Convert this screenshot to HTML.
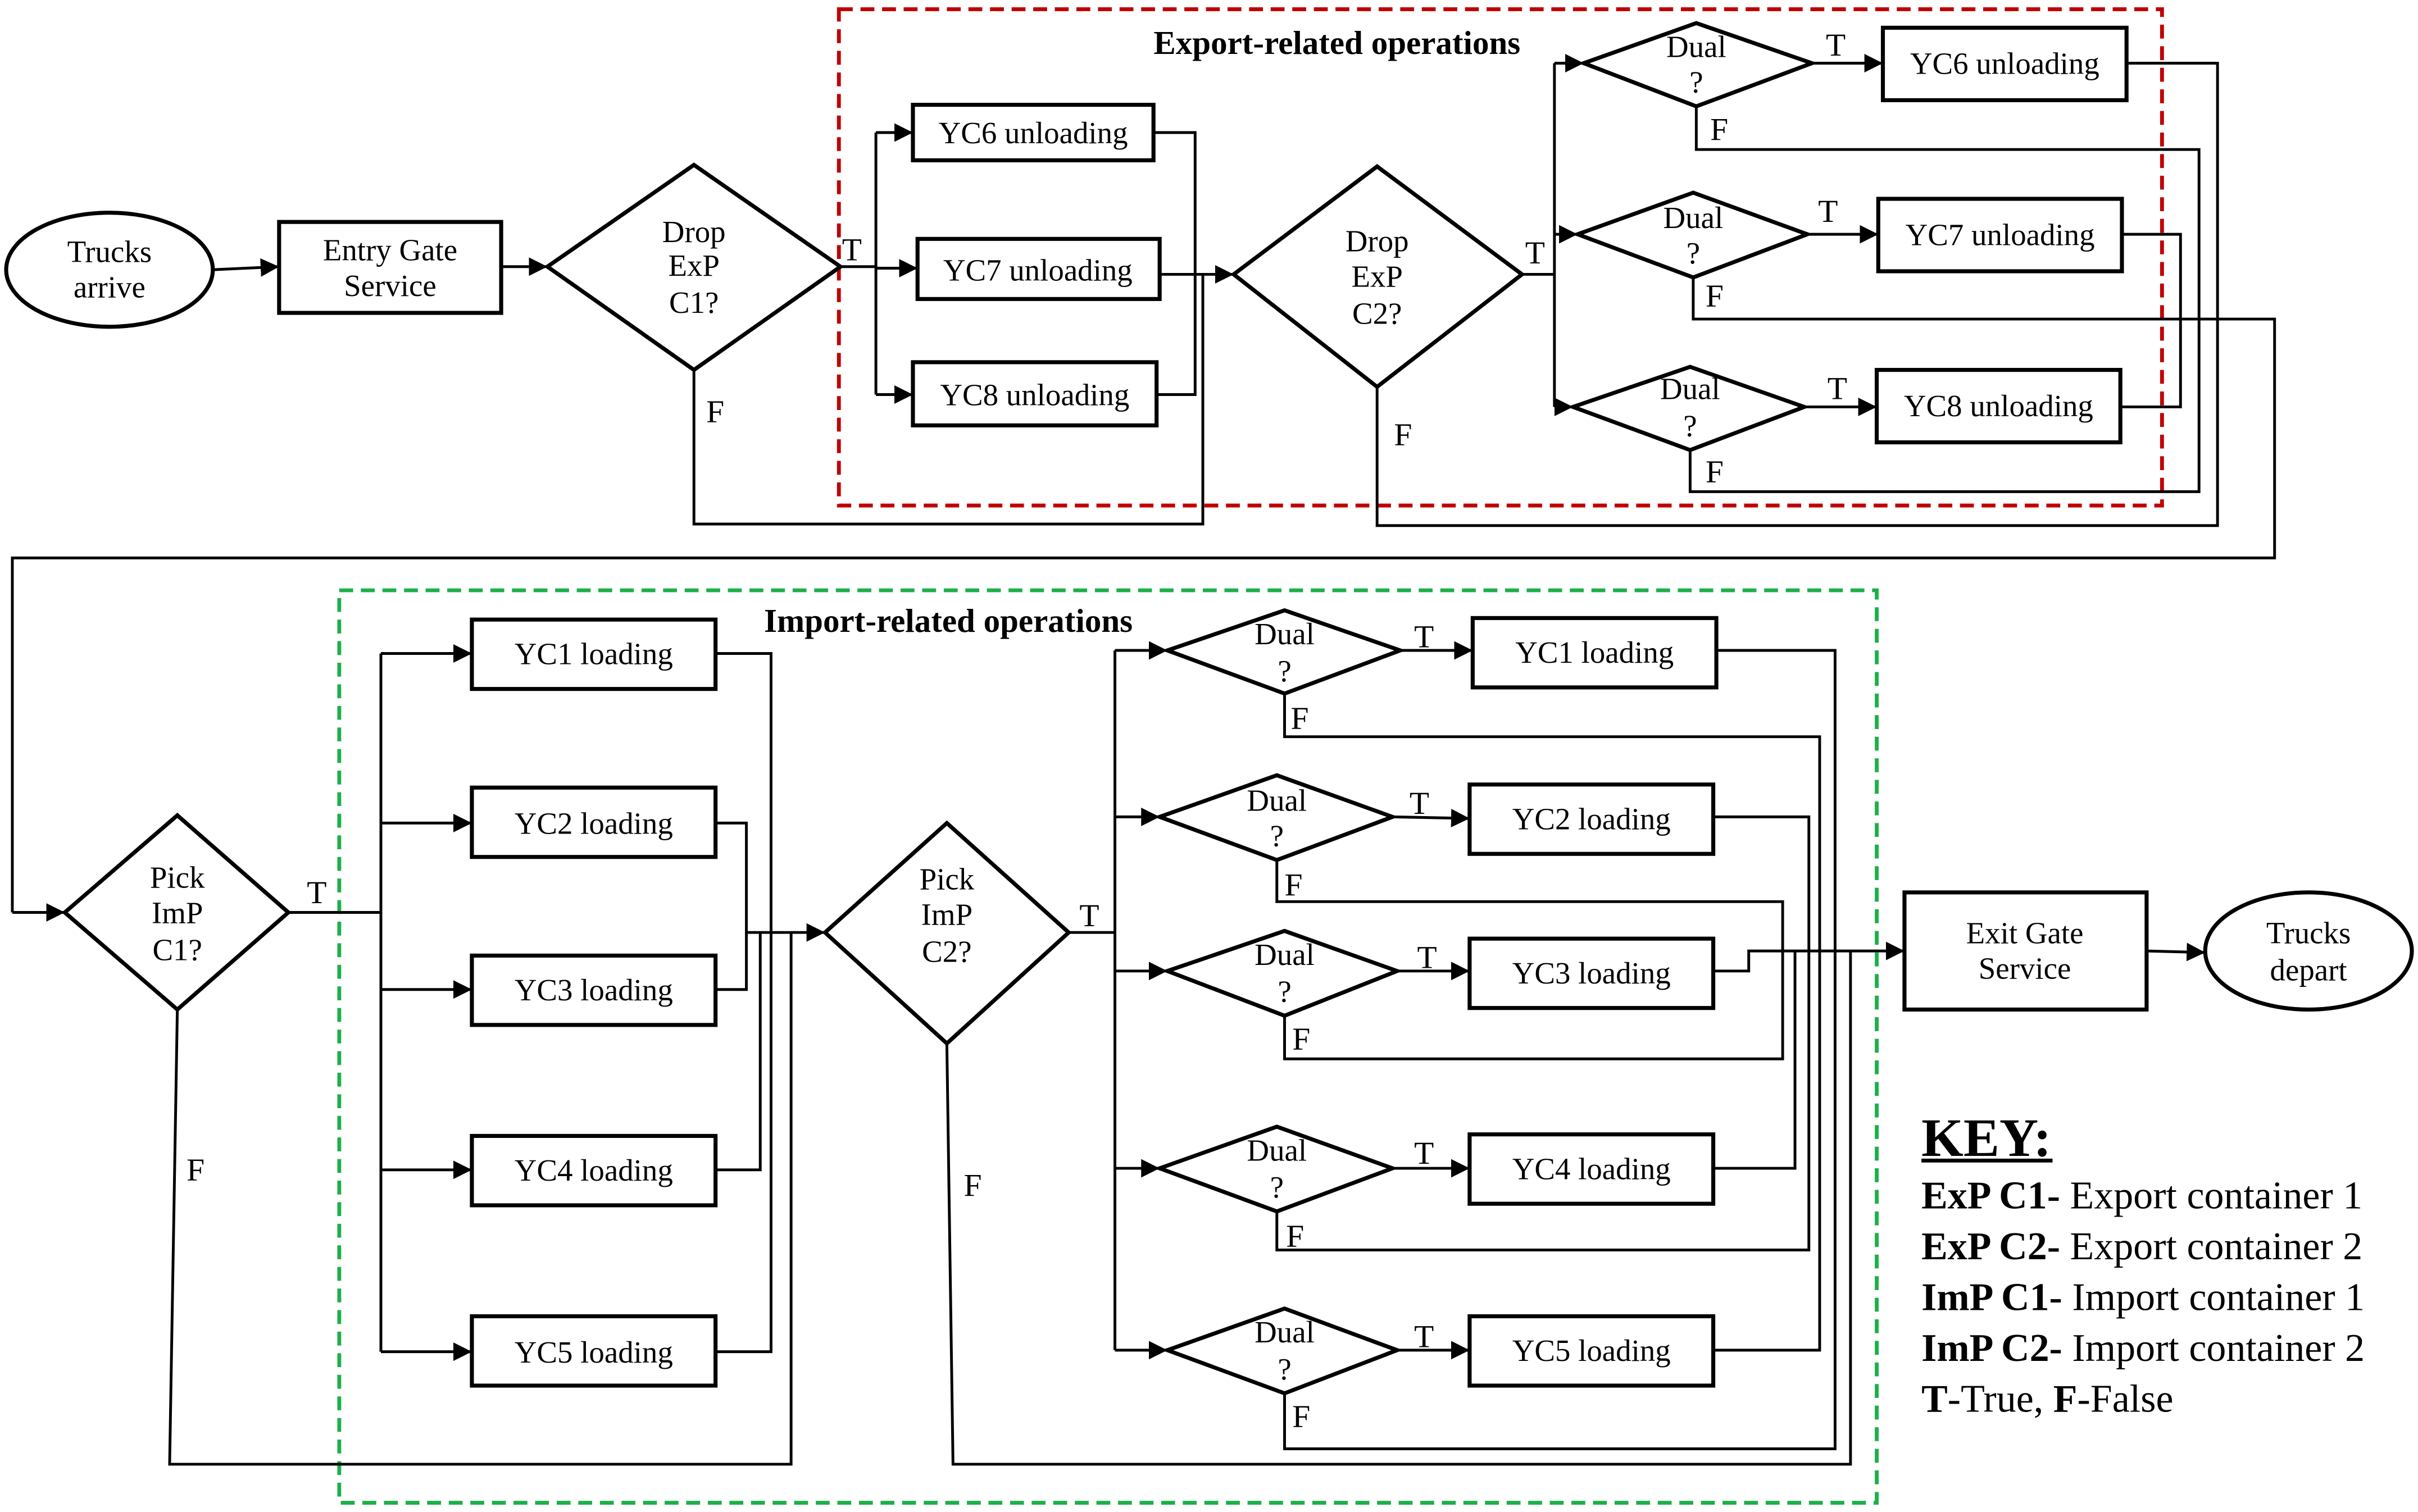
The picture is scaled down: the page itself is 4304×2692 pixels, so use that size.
<!DOCTYPE html>
<html><head><meta charset="utf-8"><style>
html,body{margin:0;padding:0;background:#fff}
svg{display:block}
text{font-family:"Liberation Serif",serif;fill:#000}
</style></head><body>
<svg width="4304" height="2692" viewBox="0 0 1568 981" preserveAspectRatio="none" xmlns="http://www.w3.org/2000/svg">
<defs>
<marker id="b" viewBox="0 0 10 10" refX="10" refY="5" markerWidth="12" markerHeight="12" markerUnits="userSpaceOnUse" orient="auto"><path d="M0,0 L10,5 L0,10z" fill="#000"/></marker>
</defs>
<g fill="none" stroke="#000">
<rect x="544" y="6" width="858" height="322" stroke="#c00000" stroke-width="2.5" stroke-dasharray="9,5"/>
<rect x="220" y="383" width="997" height="592" stroke="#1db04a" stroke-width="2.5" stroke-dasharray="9,5"/>

<g stroke-width="2.6">
<ellipse cx="71" cy="175" rx="67" ry="37"/>
<rect x="181" y="144" width="144" height="59"/>
<polygon points="355,173 450,107 545,173 450,240"/>
<rect x="592" y="68" width="156" height="36"/>
<rect x="595" y="155" width="157" height="39"/>
<rect x="592" y="235" width="158" height="41"/>
<polygon points="800,178 893,108 987,178 893,251"/>
<polygon points="1027,41 1100,15 1175,41 1100,69"/>
<polygon points="1023,152 1098,125 1172,152 1098,180"/>
<polygon points="1020,264 1096,238 1170,264 1096,292"/>
<rect x="1221" y="18" width="158" height="47"/>
<rect x="1218" y="129" width="158" height="47"/>
<rect x="1217" y="240" width="158" height="47"/>

<polygon points="42,592 115,529 187,592 115,655"/>
<rect x="306" y="402" width="158" height="45"/>
<rect x="306" y="511" width="158" height="45"/>
<rect x="306" y="620" width="158" height="45"/>
<rect x="306" y="737" width="158" height="45"/>
<rect x="306" y="854" width="158" height="45"/>
<polygon points="535,605 614,534 693,605 614,677"/>
<polygon points="757,422 833,396 908,422 833,450"/>
<polygon points="752,530 828,503 903,530 828,558"/>
<polygon points="757,630 833,604 906,630 833,659"/>
<polygon points="752,758 828,731 903,758 828,786"/>
<polygon points="757,876 833,849 906,876 833,904"/>
<rect x="955" y="401" width="158" height="45"/>
<rect x="953" y="509" width="158" height="45"/>
<rect x="953" y="609" width="158" height="45"/>
<rect x="953" y="736" width="158" height="45"/>
<rect x="953" y="854" width="158" height="45"/>
<rect x="1235" y="579" width="157" height="76"/>
<ellipse cx="1497" cy="617" rx="67" ry="38"/>
</g>

<g stroke-width="1.8">
<path d="M138,175 L181,173" marker-end="url(#b)"/>
<path d="M325,173 L355,173" marker-end="url(#b)"/>
<path d="M545,173 L568,173 M568,86 L568,256"/>
<path d="M568,86 L592,86" marker-end="url(#b)"/>
<path d="M568,174 L595,174" marker-end="url(#b)"/>
<path d="M568,256 L592,256" marker-end="url(#b)"/>
<path d="M748,86 L775,86 L775,256 L750,256"/>
<path d="M752,178 L800,178" marker-end="url(#b)"/>
<path d="M450,240 L450,340 L780,340 L780,178"/>
<path d="M987,178 L1008,178 M1008,41 L1008,264"/>
<path d="M1008,41 L1027,41" marker-end="url(#b)"/>
<path d="M1008,152 L1023,152" marker-end="url(#b)"/>
<path d="M1008,264 L1020,264" marker-end="url(#b)"/>
<path d="M1175,41 L1221,41" marker-end="url(#b)"/>
<path d="M1172,152 L1218,152" marker-end="url(#b)"/>
<path d="M1170,264 L1217,264" marker-end="url(#b)"/>
<path d="M1379,41 L1438,41 L1438,341 L893,341 L893,251"/>
<path d="M1100,69 L1100,97 L1426,97 L1426,319 L1096,319 L1096,292"/>
<path d="M1376,152 L1414,152 L1414,264 L1375,264"/>
<path d="M1098,180 L1098,207 L1475,207 L1475,362 L8,362 L8,592"/>
<path d="M8,592 L42,592" marker-end="url(#b)"/>

<path d="M187,592 L247,592 M247,424 L247,877"/>
<path d="M247,424 L306,424" marker-end="url(#b)"/>
<path d="M247,534 L306,534" marker-end="url(#b)"/>
<path d="M247,642 L306,642" marker-end="url(#b)"/>
<path d="M247,759 L306,759" marker-end="url(#b)"/>
<path d="M247,877 L306,877" marker-end="url(#b)"/>
<path d="M464,424 L500,424 L500,877 L464,877"/>
<path d="M464,534 L484,534 L484,642 L464,642"/>
<path d="M464,759 L493,759 L493,605"/>
<path d="M484,605 L535,605" marker-end="url(#b)"/>
<path d="M115,655 L110,950 L513,950 L513,605"/>

<path d="M693,605 L723,605 M723,422 L723,876"/>
<path d="M723,422 L757,422" marker-end="url(#b)"/>
<path d="M723,530 L752,530" marker-end="url(#b)"/>
<path d="M723,630 L757,630" marker-end="url(#b)"/>
<path d="M723,758 L752,758" marker-end="url(#b)"/>
<path d="M723,876 L757,876" marker-end="url(#b)"/>
<path d="M908,422 L955,422" marker-end="url(#b)"/>
<path d="M903,530 L953,531" marker-end="url(#b)"/>
<path d="M906,630 L953,630" marker-end="url(#b)"/>
<path d="M903,758 L953,758" marker-end="url(#b)"/>
<path d="M906,876 L953,876" marker-end="url(#b)"/>
<path d="M833,450 L833,478 L1180,478 L1180,876 L1111,876"/>
<path d="M1113,422 L1190,422 L1190,940 L833,940 L833,904"/>
<path d="M1111,530 L1173,530 L1173,811 L828,811 L828,786"/>
<path d="M828,558 L828,585 L1156,585 L1156,687 L833,687 L833,659"/>
<path d="M1111,630 L1134,630 L1134,617 L1235,617" marker-end="url(#b)"/>
<path d="M1111,758 L1164,758 L1164,617"/>
<path d="M614,677 L618,950 L1200,950 L1200,617"/>
<path d="M1392,617 L1430,618" marker-end="url(#b)"/>
</g>
</g>

<g font-size="20" text-anchor="middle">
<text x="71" y="170">Trucks</text><text x="71" y="193">arrive</text>
<text x="253" y="169">Entry Gate</text><text x="253" y="192">Service</text>
<text x="450" y="157">Drop</text><text x="450" y="179">ExP</text><text x="450" y="203">C1?</text>
<text x="670" y="93">YC6  unloading</text>
<text x="673" y="182">YC7 unloading</text>
<text x="671" y="263">YC8 unloading</text>
<text x="893" y="163">Drop</text><text x="893" y="186">ExP</text><text x="893" y="210">C2?</text>
<text x="1100" y="37">Dual</text><text x="1100" y="60">?</text>
<text x="1098" y="148">Dual</text><text x="1098" y="171">?</text>
<text x="1096" y="259">Dual</text><text x="1096" y="283">?</text>
<text x="1300" y="48">YC6  unloading</text>
<text x="1297" y="159">YC7 unloading</text>
<text x="1296" y="270">YC8 unloading</text>
<text x="115" y="576">Pick</text><text x="115" y="599">ImP</text><text x="115" y="623">C1?</text>
<text x="385" y="431">YC1 loading</text>
<text x="385" y="541">YC2 loading</text>
<text x="385" y="649">YC3 loading</text>
<text x="385" y="766">YC4 loading</text>
<text x="385" y="884">YC5 loading</text>
<text x="614" y="577">Pick</text><text x="614" y="600">ImP</text><text x="614" y="624">C2?</text>
<text x="833" y="418">Dual</text><text x="833" y="442">?</text>
<text x="828" y="526">Dual</text><text x="828" y="549">?</text>
<text x="833" y="626">Dual</text><text x="833" y="650">?</text>
<text x="828" y="753">Dual</text><text x="828" y="777">?</text>
<text x="833" y="871">Dual</text><text x="833" y="895">?</text>
<text x="1034" y="430">YC1 loading</text>
<text x="1032" y="538">YC2 loading</text>
<text x="1032" y="638">YC3 loading</text>
<text x="1032" y="765">YC4 loading</text>
<text x="1032" y="883">YC5 loading</text>
<text x="1313" y="612">Exit Gate</text><text x="1313" y="635">Service</text>
<text x="1497" y="612">Trucks</text><text x="1497" y="636">depart</text>
</g>
<g font-size="21">
<text x="546" y="169">T</text><text x="458" y="274">F</text>
<text x="989" y="171">T</text><text x="904" y="289">F</text>
<text x="1184" y="36">T</text><text x="1109" y="91">F</text>
<text x="1179" y="144">T</text><text x="1106" y="199">F</text>
<text x="1185" y="259">T</text><text x="1106" y="313">F</text>
<text x="199" y="586">T</text><text x="121" y="766">F</text>
<text x="700" y="601">T</text><text x="625" y="776">F</text>
<text x="917" y="420">T</text><text x="837" y="473">F</text>
<text x="914" y="528">T</text><text x="833" y="581">F</text>
<text x="919" y="628">T</text><text x="838" y="681">F</text>
<text x="917" y="755">T</text><text x="834" y="809">F</text>
<text x="917" y="874">T</text><text x="838" y="926">F</text>
</g>
<g font-size="21.5" font-weight="bold" text-anchor="middle">
<text x="867" y="35">Export-related operations</text>
<text x="615" y="410">Import-related operations</text>
</g>
<g font-size="25.5">
<text x="1246" y="750" font-size="35" font-weight="bold">KEY:</text>
<text x="1246" y="784"><tspan font-weight="bold">ExP C1-</tspan> Export container 1</text>
<text x="1246" y="817"><tspan font-weight="bold">ExP C2-</tspan> Export container 2</text>
<text x="1246" y="850"><tspan font-weight="bold">ImP C1-</tspan> Import container 1</text>
<text x="1246" y="883"><tspan font-weight="bold">ImP C2-</tspan> Import container 2</text>
<text x="1246" y="916"><tspan font-weight="bold">T</tspan>-True, <tspan font-weight="bold">F</tspan>-False</text>
</g>
<line x1="1246" y1="753" x2="1331" y2="753" stroke="#000" stroke-width="2.5"/>
</svg>
</body></html>
